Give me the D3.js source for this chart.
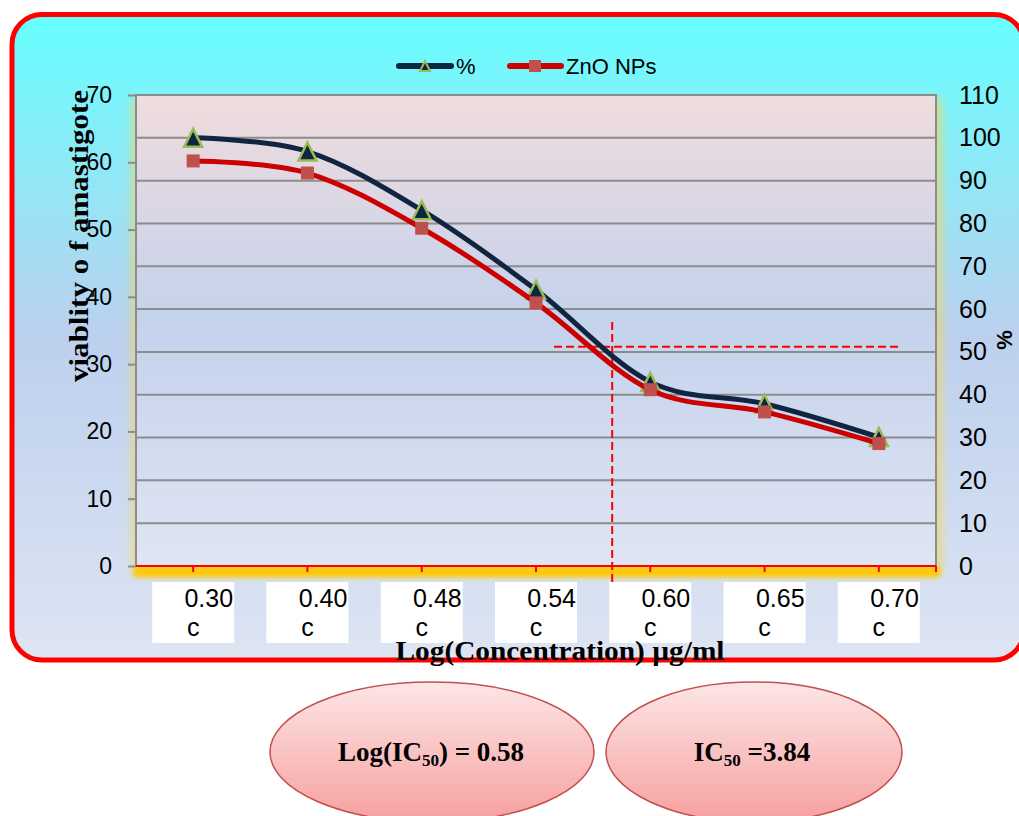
<!DOCTYPE html>
<html>
<head>
<meta charset="utf-8">
<script src="https://cdn.jsdelivr.net/npm/d3@7"></script>
<style>
  body { margin: 0; background: #fff; }
  svg text { font-family: Arial, "Liberation Sans", sans-serif; }
  svg text.serif { font-family: "Liberation Serif", "Times New Roman", serif; font-weight: bold; }
</style>
</head>
<body>
<div id="chart"></div>
<script>
// data
var categories = ["0.30", "0.40", "0.48", "0.54", "0.60", "0.65", "0.70"];
var catSuffix = "c";
var pctValues = [100, 96.8, 83.1, 64.5, 43.0, 37.9, 30.1];      // "%" series, right axis
var znoValues = [60.2, 58.4, 50.2, 39.1, 26.2, 22.9, 18.2];     // "ZnO NPs", left axis
var leftTicks = [0, 10, 20, 30, 40, 50, 60, 70];
var rightTicks = [0, 10, 20, 30, 40, 50, 60, 70, 80, 90, 100, 110];
var logIC50 = 0.58;
var refPercent = 51.2;
var ic50Text = "3.84";

var width = 1019, height = 816;
var plotL = 136, plotR = 936, plotT = 95, plotB = 566;

var svg = d3.select("#chart").append("svg")
    .attr("width", width)
    .attr("height", height);

var defs = svg.append("defs");

var bgGrad = defs.append("linearGradient").attr("id", "bgGrad")
    .attr("x1", "0%").attr("y1", "0%").attr("x2", "0%").attr("y2", "100%");
bgGrad.append("stop").attr("offset", "0%").attr("stop-color", "#66ffff");
bgGrad.append("stop").attr("offset", "50%").attr("stop-color", "#bcd0ee");
bgGrad.append("stop").attr("offset", "100%").attr("stop-color", "#dee5f3");

var plotGrad = defs.append("linearGradient").attr("id", "plotGrad")
    .attr("x1", "0%").attr("y1", "0%").attr("x2", "0%").attr("y2", "100%");
plotGrad.append("stop").attr("offset", "0%").attr("stop-color", "#f0dcdd");
plotGrad.append("stop").attr("offset", "48%").attr("stop-color", "#c4d2ec");
plotGrad.append("stop").attr("offset", "100%").attr("stop-color", "#dfe5f3");

var ellGrad = defs.append("linearGradient").attr("id", "ellGrad")
    .attr("x1", "0%").attr("y1", "0%").attr("x2", "0%").attr("y2", "100%");
ellGrad.append("stop").attr("offset", "0%").attr("stop-color", "#fde6e6");
ellGrad.append("stop").attr("offset", "100%").attr("stop-color", "#f7a0a0");

defs.append("filter").attr("id", "glow")
    .attr("x", "-10%").attr("y", "-10%").attr("width", "120%").attr("height", "120%")
    .append("feGaussianBlur").attr("stdDeviation", 4);
defs.append("filter").attr("id", "glow2")
    .attr("x", "-10%").attr("y", "-50%").attr("width", "120%").attr("height", "200%")
    .append("feGaussianBlur").attr("stdDeviation", 2);

// outer frame
svg.append("rect")
    .attr("x", 12).attr("y", 14.5)
    .attr("width", 1012).attr("height", 645.5)
    .attr("rx", 30).attr("ry", 30)
    .style("fill", "url(#bgGrad)")
    .style("stroke", "#ff0000")
    .style("stroke-width", 5);

var x = d3.scaleBand().domain(categories).range([plotL, plotR]);
var yLeft = d3.scaleLinear().domain([0, 70]).range([plotB, plotT]);
var yRight = d3.scaleLinear().domain([0, 110]).range([plotB, plotT]);
var xc = function (c) { return x(c) + x.bandwidth() / 2; };

// glow round the plot area
svg.append("rect")
    .attr("x", plotL - 4).attr("y", plotT + 4)
    .attr("width", plotR - plotL + 10).attr("height", plotB - plotT + 6)
    .style("fill", "#f2d860").style("opacity", 0.7)
    .attr("filter", "url(#glow)");
svg.append("rect")
    .attr("x", plotL - 2).attr("y", plotB)
    .attr("width", plotR - plotL + 6).attr("height", 11)
    .style("fill", "#ffc80a")
    .attr("filter", "url(#glow2)");

svg.append("rect")
    .attr("x", plotL).attr("y", plotT)
    .attr("width", plotR - plotL).attr("height", plotB - plotT)
    .style("fill", "url(#plotGrad)")
    .style("stroke", "#8c8c8c")
    .style("stroke-width", 2);

// gridlines
svg.append("g").selectAll("line")
    .data(rightTicks.filter(function (t) { return t > 0 && t < 110; }))
    .enter().append("line")
    .attr("x1", plotL).attr("x2", plotR)
    .attr("y1", function (d) { return yRight(d); })
    .attr("y2", function (d) { return yRight(d); })
    .style("stroke", "#8c8c8c")
    .style("stroke-width", 2);

// left axis
var yAxisL = d3.axisLeft(yLeft).tickValues(leftTicks).tickSize(8).tickPadding(16);
var gL = svg.append("g").attr("transform", "translate(" + plotL + ",0)").call(yAxisL);
gL.select(".domain").remove();
gL.selectAll(".tick line").style("stroke", "#8c8c8c").style("stroke-width", 2);
gL.selectAll(".tick text").style("font-size", "23px").style("fill", "#000")
    .attr("font-family", null);

// right axis
var yAxisR = d3.axisRight(yRight).tickValues(rightTicks).tickSize(0).tickPadding(23);
var gR = svg.append("g").attr("transform", "translate(" + plotR + ",0)").call(yAxisR);
gR.select(".domain").remove();
gR.selectAll(".tick text").style("font-size", "25px").style("fill", "#000")
    .attr("font-family", null);

// x axis
svg.append("line")
    .attr("x1", plotL).attr("x2", plotR)
    .attr("y1", plotB).attr("y2", plotB)
    .style("stroke", "#ff0000").style("stroke-width", 2);
svg.append("g").selectAll("line")
    .data(categories.concat(["end"]))
    .enter().append("line")
    .attr("x1", function (d) { return d === "end" ? plotR : xc(d); })
    .attr("x2", function (d) { return d === "end" ? plotR : xc(d); })
    .attr("y1", plotB).attr("y2", plotB + 6)
    .style("stroke", "#ff0000").style("stroke-width", 2);

var catG = svg.append("g").selectAll("g")
    .data(categories)
    .enter().append("g")
    .attr("transform", function (d) { return "translate(" + xc(d) + ",0)"; });
catG.append("rect")
    .attr("x", -41).attr("y", 582)
    .attr("width", 82).attr("height", 61)
    .style("fill", "#fff");
catG.append("text")
    .attr("x", 40).attr("y", 607)
    .attr("text-anchor", "end")
    .style("font-size", "25px")
    .text(function (d) { return d; });
catG.append("text")
    .attr("x", 0).attr("y", 636)
    .attr("text-anchor", "middle")
    .style("font-size", "25px")
    .text(catSuffix);

// reference lines for IC50
var xLog = d3.scaleLinear()
    .domain([+categories[3], +categories[4]])
    .range([xc(categories[3]), xc(categories[4])]);
svg.append("line")
    .attr("x1", xLog(logIC50)).attr("x2", xLog(logIC50))
    .attr("y1", 322).attr("y2", 582)
    .style("stroke", "#ff0000").style("stroke-width", 2)
    .style("stroke-dasharray", "8,4");
svg.append("line")
    .attr("x1", 554).attr("x2", 902)
    .attr("y1", yRight(refPercent)).attr("y2", yRight(refPercent))
    .style("stroke", "#ff0000").style("stroke-width", 2)
    .style("stroke-dasharray", "8,4");

// series
var pctLine = d3.line()
    .x(function (d, i) { return xc(categories[i]); })
    .y(function (d) { return yRight(d); })
    .curve(d3.curveCatmullRom.alpha(0));
var znoLine = d3.line()
    .x(function (d, i) { return xc(categories[i]); })
    .y(function (d) { return yLeft(d); })
    .curve(d3.curveCatmullRom.alpha(0));

function triPath(s) {
    return "M0," + (-s / 2) + "L" + (s / 2) + "," + (s / 2) + "L" + (-s / 2) + "," + (s / 2) + "Z";
}

svg.append("path")
    .datum(pctValues)
    .attr("d", pctLine)
    .style("fill", "none")
    .style("stroke", "#10253f")
    .style("stroke-width", 5);
svg.append("g").selectAll("path")
    .data(pctValues)
    .enter().append("path")
    .attr("transform", function (d, i) { return "translate(" + xc(categories[i]) + "," + yRight(d) + ")"; })
    .attr("d", triPath(18))
    .style("fill", "#10253f")
    .style("stroke", "#9bbb59")
    .style("stroke-width", 2.5);

svg.append("path")
    .datum(znoValues)
    .attr("d", znoLine)
    .style("fill", "none")
    .style("stroke", "#cc0000")
    .style("stroke-width", 5);
svg.append("g").selectAll("rect")
    .data(znoValues)
    .enter().append("rect")
    .attr("x", function (d, i) { return xc(categories[i]) - 6.5; })
    .attr("y", function (d) { return yLeft(d) - 6.5; })
    .attr("width", 13).attr("height", 13)
    .style("fill", "#c0504d");

// legend
var lg = svg.append("g");
lg.append("line").attr("x1", 399).attr("x2", 451).attr("y1", 66).attr("y2", 66)
    .style("stroke", "#10253f").style("stroke-width", 6).style("stroke-linecap", "round");
lg.append("path").attr("transform", "translate(425,66)").attr("d", triPath(10))
    .style("fill", "#10253f").style("stroke", "#9bbb59").style("stroke-width", 2);
lg.append("text").attr("x", 456).attr("y", 74).style("font-size", "22px").text("%");
lg.append("line").attr("x1", 510).attr("x2", 561).attr("y1", 66).attr("y2", 66)
    .style("stroke", "#cc0000").style("stroke-width", 6).style("stroke-linecap", "round");
lg.append("rect").attr("x", 529).attr("y", 60).attr("width", 12).attr("height", 12)
    .style("fill", "#c0504d");
lg.append("text").attr("x", 566).attr("y", 74).style("font-size", "22px").text("ZnO NPs");

// axis titles
svg.append("text")
    .attr("class", "serif")
    .attr("transform", "translate(88,236) rotate(-90)")
    .attr("text-anchor", "middle")
    .attr("textLength", 292)
    .attr("lengthAdjust", "spacingAndGlyphs")
    .style("font-size", "27px")
    .text("viablity o f amastigote");
svg.append("text")
    .attr("transform", "translate(1012,340) rotate(-90)")
    .attr("text-anchor", "middle")
    .style("font-weight", "bold")
    .style("font-size", "22px")
    .text("%");
svg.append("text")
    .attr("class", "serif")
    .attr("x", 560).attr("y", 660)
    .attr("text-anchor", "middle")
    .attr("textLength", 329)
    .attr("lengthAdjust", "spacingAndGlyphs")
    .style("font-size", "27px")
    .text("Log(Concentration) µg/ml");

// IC50 ellipses
var ell = svg.append("g");
ell.append("ellipse").attr("cx", 432).attr("cy", 752).attr("rx", 162).attr("ry", 70)
    .style("fill", "url(#ellGrad)").style("stroke", "#c0504d").style("stroke-width", 1.5);
ell.append("ellipse").attr("cx", 754).attr("cy", 752).attr("rx", 148).attr("ry", 70)
    .style("fill", "url(#ellGrad)").style("stroke", "#c0504d").style("stroke-width", 1.5);

var t1 = ell.append("text").attr("class", "serif")
    .attr("x", 431).attr("y", 761).attr("text-anchor", "middle")
    .style("font-size", "27px");
t1.append("tspan").text("Log(IC");
t1.append("tspan").attr("dy", 5).style("font-size", "17px").text("50");
t1.append("tspan").attr("dy", -5).text(") = " + logIC50.toFixed(2));

var t2 = ell.append("text").attr("class", "serif")
    .attr("x", 752).attr("y", 761).attr("text-anchor", "middle")
    .style("font-size", "27px");
t2.append("tspan").text("IC");
t2.append("tspan").attr("dy", 5).style("font-size", "17px").text("50");
t2.append("tspan").attr("dy", -5).text(" =" + ic50Text);
</script>
</body>
</html>
